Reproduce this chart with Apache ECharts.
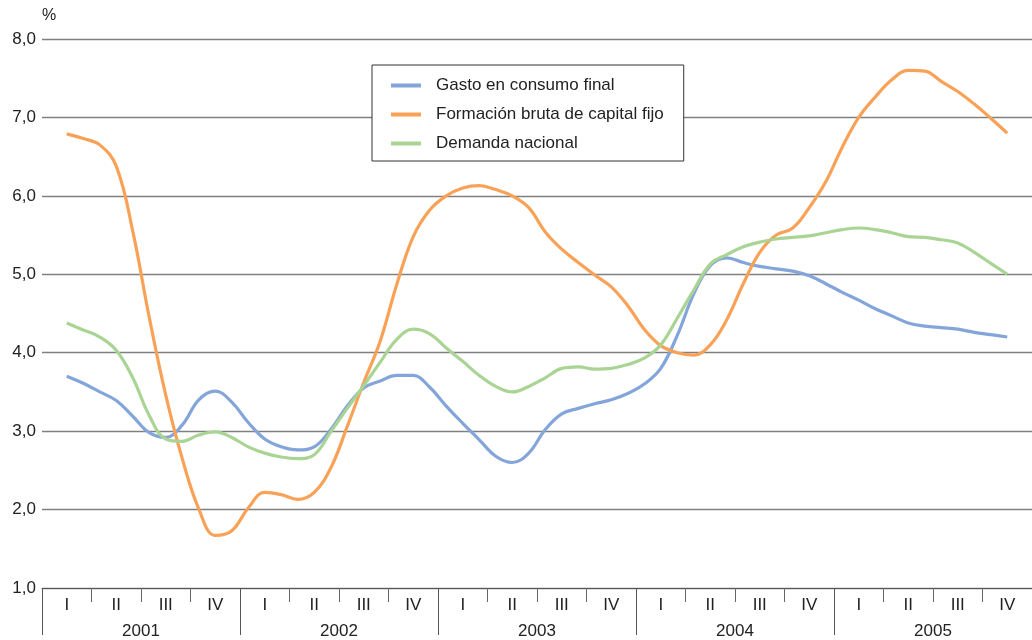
<!DOCTYPE html>
<html>
<head>
<meta charset="utf-8">
<script src="https://cdn.jsdelivr.net/npm/echarts@6/dist/echarts.min.js"></script>
<style>html,body{margin:0;padding:0;background:#fff}#c{width:1032px;height:640px}</style>
</head>
<body>
<div id="c"></div>
<script>
// Categories
var years = ['2001', '2002', '2003', '2004', '2005'];
var quarterNames = ['I', 'II', 'III', 'IV'];
// Monthly readings, Feb 2001 .. Nov 2005
var gasto = [3.70,3.61,3.50,3.39,3.19,2.98,2.92,3.08,3.40,3.51,3.37,3.11,2.90,2.80,2.76,2.80,3.02,3.32,3.55,3.64,3.71,3.71,3.56,3.32,3.10,2.89,2.68,2.60,2.72,3.02,3.22,3.29,3.35,3.40,3.48,3.60,3.80,4.22,4.75,5.11,5.21,5.15,5.10,5.07,5.04,4.98,4.88,4.77,4.67,4.56,4.47,4.38,4.34,4.32,4.30,4.26,4.23,4.20];
var formacion = [6.79,6.73,6.65,6.38,5.55,4.45,3.46,2.65,2.01,1.67,1.73,2.02,2.22,2.19,2.13,2.22,2.53,3.06,3.62,4.15,4.87,5.48,5.82,6.00,6.10,6.13,6.08,6.00,5.85,5.54,5.32,5.15,4.99,4.84,4.60,4.30,4.09,4.00,3.97,4.10,4.42,4.88,5.28,5.50,5.59,5.85,6.18,6.62,7.00,7.26,7.48,7.60,7.59,7.46,7.33,7.17,6.99,6.80];
var demanda = [4.38,4.29,4.20,4.03,3.68,3.20,2.90,2.87,2.95,2.99,2.92,2.80,2.72,2.67,2.65,2.70,2.99,3.29,3.58,3.88,4.17,4.30,4.24,4.06,3.89,3.71,3.57,3.50,3.57,3.68,3.80,3.82,3.79,3.80,3.85,3.93,4.10,4.44,4.80,5.13,5.25,5.35,5.41,5.45,5.47,5.49,5.53,5.57,5.59,5.57,5.53,5.48,5.47,5.44,5.40,5.28,5.14,5.00];
var seriesNames = ['Gasto en consumo final', 'Formación bruta de capital fijo', 'Demanda nacional'];

var months = [];
var quarters = [];
years.forEach(function (y) {
  quarterNames.forEach(function (q) {
    quarters.push(q);
    for (var m = 0; m < 3; m++) months.push(y + '-' + q + '-' + m);
  });
});
function pad(a) { return ['-'].concat(a).concat(['-']); }

var chart = echarts.init(document.getElementById('c'), null, {renderer: 'canvas'});
var txt = '#222';
var font = 'Liberation Sans, Arial, sans-serif';
var fs = 17;
chart.setOption({
  animation: false,
  backgroundColor: '#fff',
  textStyle: {fontFamily: font},
  grid: {left: 42, right: 0, top: 39, bottom: 50, containLabel: false},
  legend: {
    orient: 'vertical', left: 372, top: 65,
    backgroundColor: '#fff', borderColor: '#333', borderWidth: 1,
    padding: [12, 20, 9, 19],
    itemWidth: 30, itemHeight: 4, itemGap: 12,
    icon: 'rect',
    textStyle: {fontSize: fs, color: txt, fontFamily: font, padding: [0, 0, 0, 10]},
    data: seriesNames
  },
  xAxis: [
    {type: 'category', data: months, boundaryGap: true, show: false, gridIndex: 0},
    {type: 'category', data: quarters, boundaryGap: true, position: 'bottom', gridIndex: 0,
      axisLine: {show: true, lineStyle: {color: '#555', width: 1}},
      axisTick: {show: true, interval: 0, length: 14, lineStyle: {color: '#666', width: 1}},
      axisLabel: {interval: 0, margin: 9, fontSize: fs, color: txt, fontFamily: font},
      splitLine: {show: false}},
    {type: 'category', data: years, boundaryGap: true, position: 'bottom', gridIndex: 0,
      axisLine: {show: false},
      axisTick: {show: true, interval: 0, length: 47, lineStyle: {color: '#555', width: 1}},
      axisLabel: {interval: 0, margin: 35, fontSize: fs, color: txt, fontFamily: font},
      splitLine: {show: false}}
  ],
  yAxis: {
    type: 'value', min: 1, max: 8, interval: 1,
    name: '%', nameLocation: 'end', nameGap: 15,
    nameTextStyle: {fontSize: 16, color: txt, align: 'left', padding: [0, 0, 0, 0]},
    axisLine: {show: false}, axisTick: {show: false},
    axisLabel: {fontSize: fs, color: txt, margin: 6, fontFamily: font,
      formatter: function (v) { return v.toFixed(1).replace('.', ','); }},
    splitLine: {show: true, lineStyle: {color: '#808080', width: 1.4}}
  },
  series: [
    {name: seriesNames[0], type: 'line', xAxisIndex: 0, data: pad(gasto), smooth: 0.4, showSymbol: false,
      lineStyle: {color: '#83a5da', width: 3.2}, itemStyle: {color: '#83a5da'}},
    {name: seriesNames[1], type: 'line', xAxisIndex: 0, data: pad(formacion), smooth: 0.4, showSymbol: false,
      lineStyle: {color: '#f9a257', width: 3.2}, itemStyle: {color: '#f9a257'}},
    {name: seriesNames[2], type: 'line', xAxisIndex: 0, data: pad(demanda), smooth: 0.4, showSymbol: false,
      lineStyle: {color: '#a9d494', width: 3.2}, itemStyle: {color: '#a9d494'}}
  ]
});
</script>
</body>
</html>
